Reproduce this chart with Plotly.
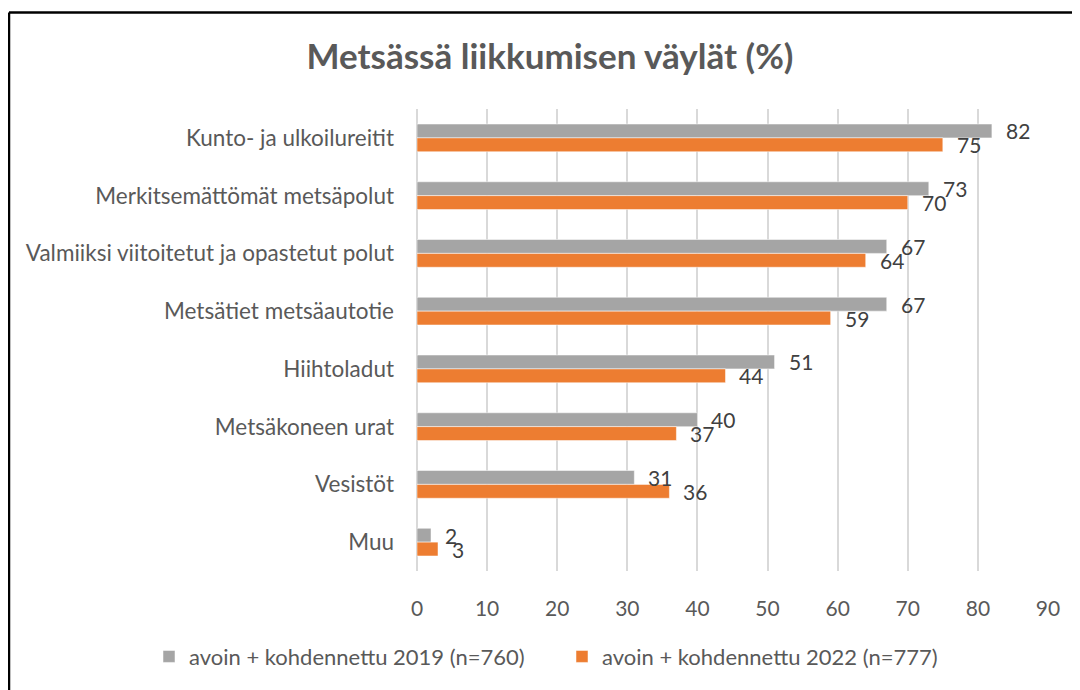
import plotly.graph_objects as go

categories = [
    "Kunto- ja ulkoilureitit",
    "Merkitsemättömät metsäpolut",
    "Valmiiksi viitoitetut ja opastetut polut",
    "Metsätiet metsäautotie",
    "Hiihtoladut",
    "Metsäkoneen urat",
    "Vesistöt",
    "Muu",
]
values_2019 = [82, 73, 67, 67, 51, 40, 31, 2]
values_2022 = [75, 70, 64, 59, 44, 37, 36, 3]
name_2019 = "avoin + kohdennettu 2019 (n=760)"
name_2022 = "avoin + kohdennettu 2022 (n=777)"
x_ticks = [0, 10, 20, 30, 40, 50, 60, 70, 80, 90]

FONT = "Lato"
TXT = "#595959"
GRAY = "#A5A5A5"
ORANGE = "#ED7D31"

fig = go.Figure()
fig.add_trace(go.Bar(y=categories, x=values_2019, name=name_2019, orientation="h",
                     marker=dict(color=GRAY, line=dict(color="white", width=0.5))))
fig.add_trace(go.Bar(y=categories, x=values_2022, name=name_2022, orientation="h",
                     marker=dict(color=ORANGE, line=dict(color="white", width=0.5))))

OFF = 8  # page body margin
W, H = 1080 - OFF, 690 - OFF
# target plot area in screen pixels: x 417..1048, y 109..573
L, T = 417 - OFF, 109 - OFF
R, B = W - (1048 - OFF), H - (573 - OFF)
PW, PH = W - L - R, H - T - B
bargap = 0.52
half = (1 - bargap) / 4 * PH / len(categories)


def px_x(p):
    return (p - OFF - L) / PW


def px_y(p):
    return 1 - (p - OFF - T) / PH


annotations = []
for c, v1, v2 in zip(categories, values_2019, values_2022):
    annotations.append(dict(x=v1, y=c, xref="x", yref="y", text=str(v1), showarrow=False,
                            xanchor="left", xshift=12, yshift=half,
                            font=dict(family=FONT, size=21, color="#404040")))
    annotations.append(dict(x=v2, y=c, xref="x", yref="y", text=str(v2), showarrow=False,
                            xanchor="left", xshift=12, yshift=-half,
                            font=dict(family=FONT, size=21, color="#404040")))

shapes = [
    dict(type="line", xref="paper", yref="paper", x0=px_x(9), x1=px_x(1100), y0=px_y(12), y1=px_y(12),
         line=dict(color="black", width=2.5)),
    dict(type="line", xref="paper", yref="paper", x0=px_x(9), x1=px_x(9), y0=px_y(12), y1=px_y(720),
         line=dict(color="black", width=2.5)),
]

fig.update_layout(
    width=W, height=H,
    margin=dict(l=L, r=R, t=T, b=B),
    paper_bgcolor="white", plot_bgcolor="white",
    barmode="group", bargap=bargap, bargroupgap=0,
    font=dict(family=FONT, color=TXT),
    title=dict(text="<b>Metsässä liikkumisen väylät (%)</b>", x=(550 - OFF) / W, xanchor="center",
               y=1 - (57 - OFF) / H, yanchor="middle", font=dict(family=FONT, size=35, color=TXT)),
    xaxis=dict(range=[0, 90], tickvals=x_ticks, showgrid=True, gridcolor="#D9D9D9", gridwidth=1.5,
               zeroline=True, zerolinecolor="#D9D9D9", zerolinewidth=1.5,
               tickfont=dict(family=FONT, size=21, color=TXT), ticklabelstandoff=23,
               showline=False, fixedrange=True),
    yaxis=dict(autorange="reversed", tickfont=dict(family=FONT, size=22.5, color=TXT),
               ticklabelstandoff=22, showgrid=False, showline=False, fixedrange=True),
    legend=dict(orientation="h", x=px_x(149), xanchor="left", y=px_y(659), yanchor="middle",
                font=dict(family=FONT, size=22, color=TXT), entrywidth=368, entrywidthmode="pixels",
                traceorder="normal", itemwidth=30),
    annotations=annotations,
    shapes=shapes,
)

fig.write_html("out.html", config=dict(displayModeBar=False))
